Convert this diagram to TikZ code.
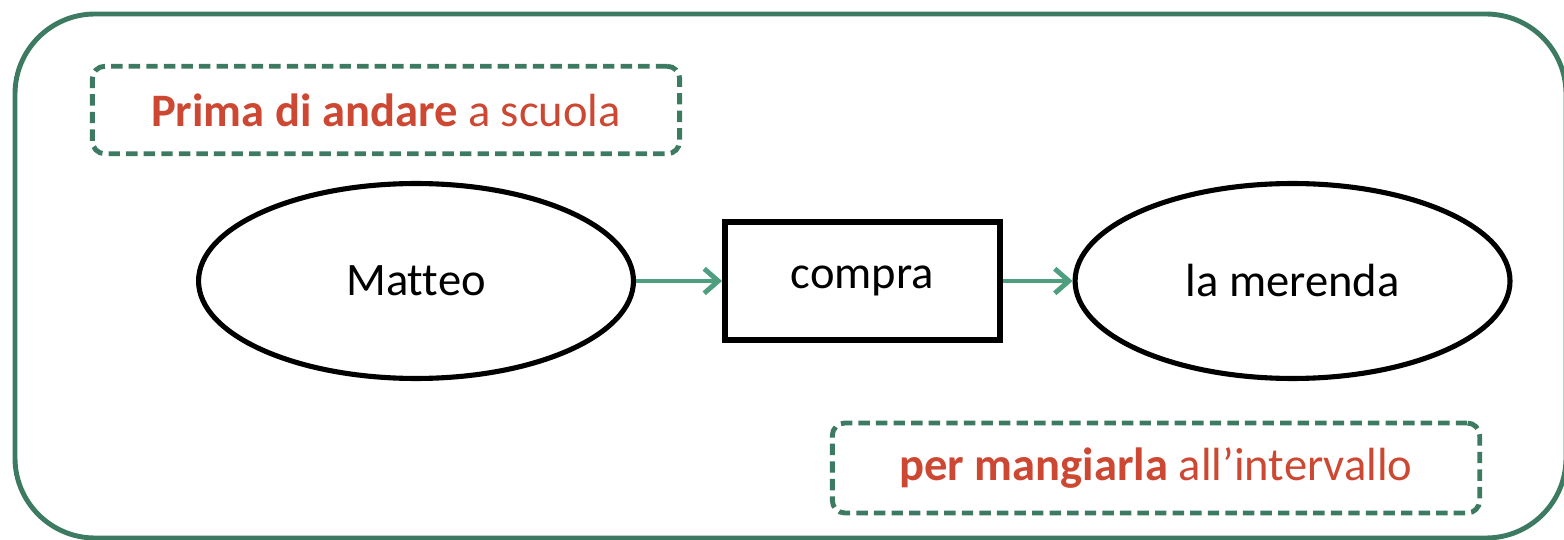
\documentclass[tikz,border=0pt]{standalone}
\usepackage{fontspec}
\setmainfont{Carlito}[Ligatures=NoCommon]
\usepackage{xcolor}
\usepackage{tikz}
\usetikzlibrary{shapes.geometric, positioning, arrows.meta}
\definecolor{cornice}{RGB}{61,122,98}
\definecolor{freccia}{RGB}{78,158,128}
\definecolor{rosso}{RGB}{204,72,50}
\tikzset{
  ellisse/.style={ellipse, draw=black, line width=2.9pt, minimum width=8.7cm, minimum height=3.9cm},
  scatola/.style={rectangle, draw=black, line width=3.2pt, minimum width=5.5cm, minimum height=2.35cm},
  tratteggio/.style={rectangle, draw=cornice, line width=2.8pt, rounded corners=0.25cm,
    dash pattern=on 6.5pt off 3.5pt, text=rosso},
  collega/.style={draw=freccia, line width=2.8pt, -{Straight Barb[length=8pt, width=14pt]}}
}
\begin{document}
\begin{tikzpicture}[x=0.02cm, y=-0.02cm, font=\fontsize{26.5}{32}\selectfont]
\useasboundingbox (0,0) rectangle (1564,540);
% cornice esterna
\draw[cornice, line width=2.8pt, rounded corners=1.6cm] (15,14) rectangle (1566,538);
% nodi
\node[ellisse] (matteo) at (416,281) {Matteo};
\node[scatola, right=1.72cm of matteo] (compra) {compra};
\node[ellisse, right=1.4cm of compra] (merenda) {la merenda};
% complementi
\node[tratteggio, minimum width=11.75cm, minimum height=1.75cm] (prima) at (386,110)
  {\textbf{Prima di andare} a scuola};
\node[tratteggio, minimum width=12.95cm, minimum height=1.8cm] (per) at (1156,468)
  {\textbf{per mangiarla} all’intervallo};
% frecce
\draw[collega] (matteo) -- (compra);
\draw[collega] (compra) -- (merenda);
\end{tikzpicture}
\end{document}
